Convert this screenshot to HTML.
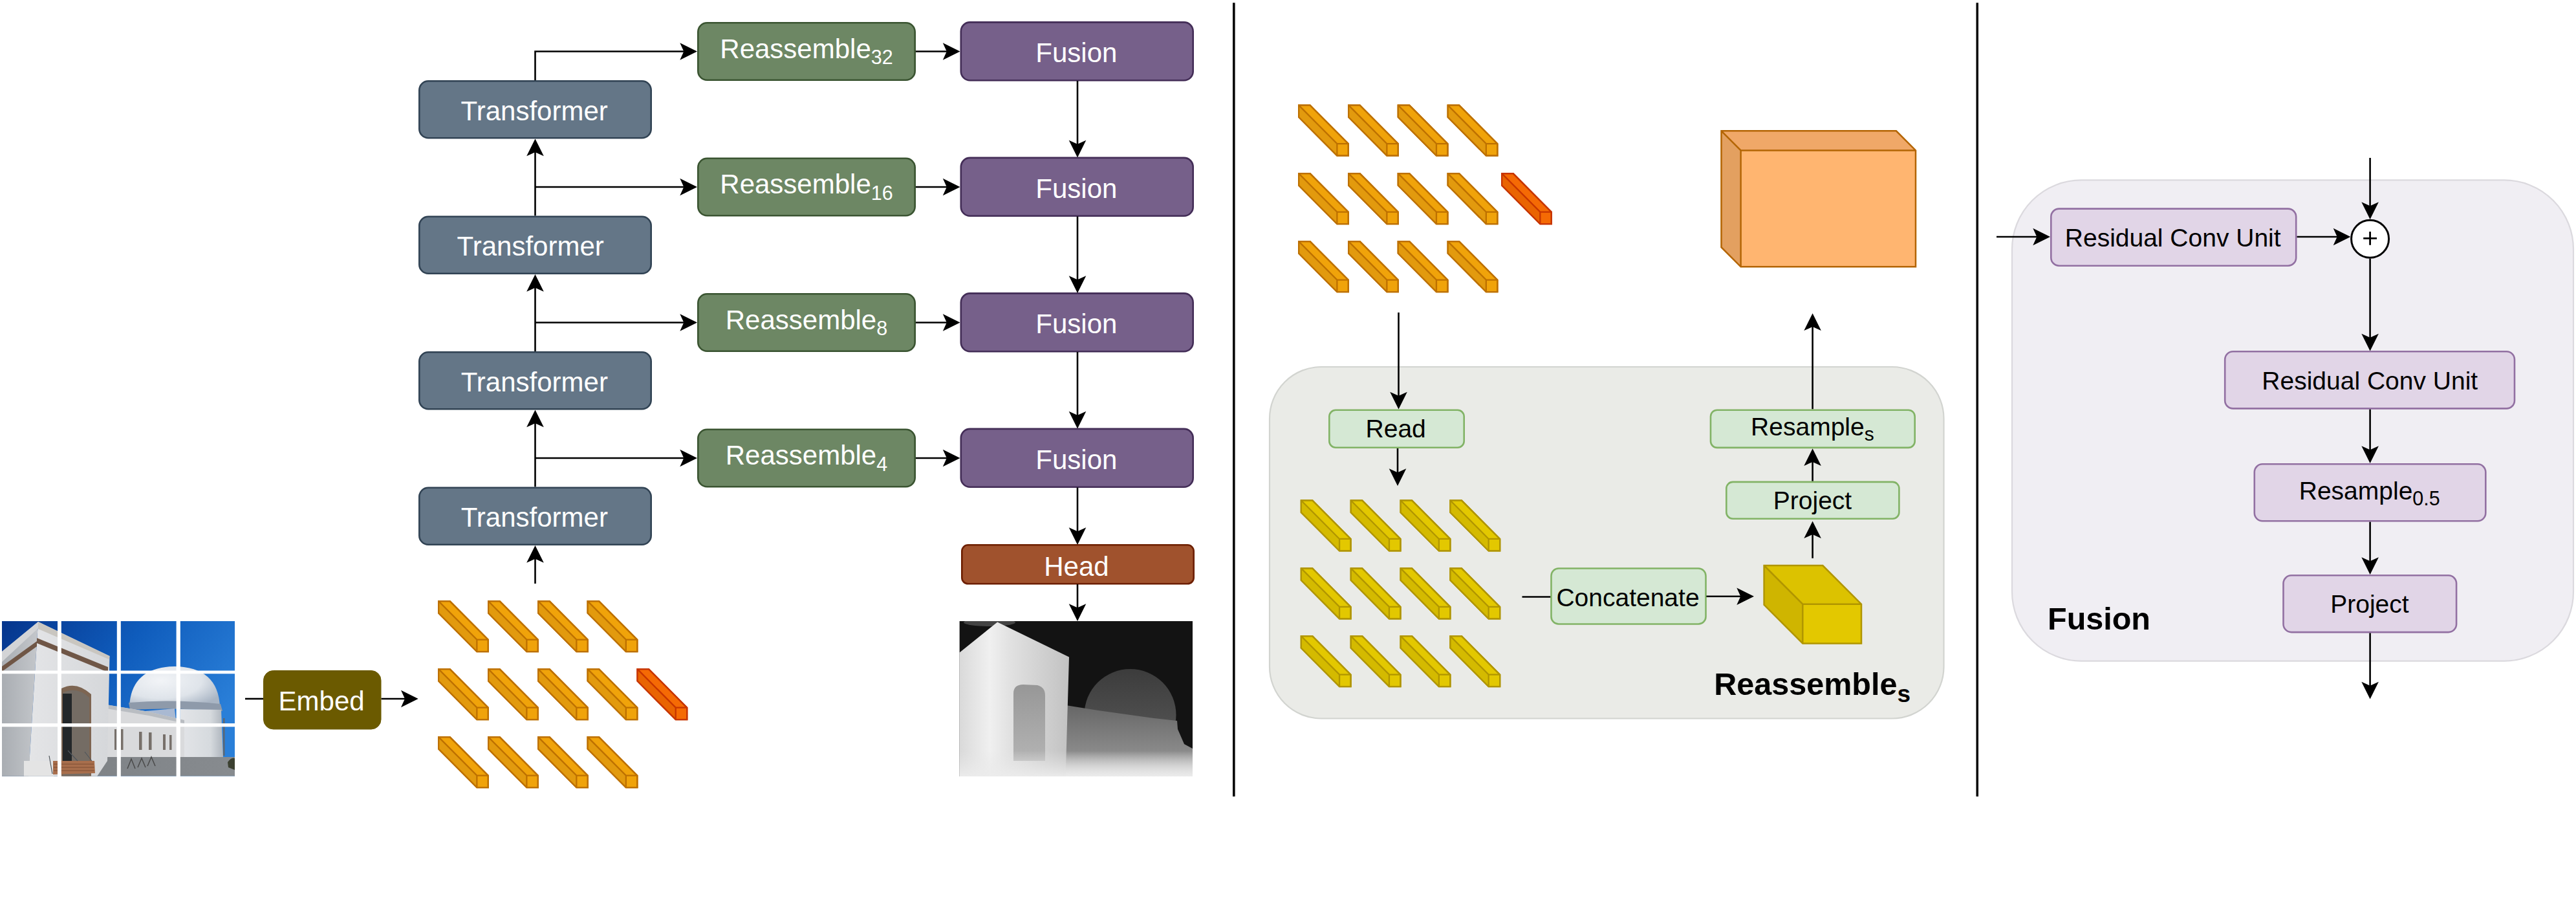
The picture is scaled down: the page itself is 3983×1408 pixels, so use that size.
<!DOCTYPE html>
<html><head><meta charset="utf-8"><style>
html,body{margin:0;padding:0;background:#fff;}
svg{display:block;}
text{font-family:"Liberation Sans", sans-serif;}
</style></head><body>
<svg width="3983" height="1408" viewBox="0 0 3983 1408">
<rect width="3983" height="1408" fill="#fff"/>
<path d="M827.50 124.00 L827.50 79.50 L1058.00 79.50" fill="none" stroke="#000" stroke-width="2.6" stroke-linecap="butt" stroke-linejoin="miter"/>
<path d="M1078.00 79.50 L1051.30 92.80 L1057.30 79.50 L1051.30 66.20 Z" fill="#000"/>
<path d="M1416.00 79.50 L1464.50 79.50" fill="none" stroke="#000" stroke-width="2.6" stroke-linecap="butt" stroke-linejoin="miter"/>
<path d="M1484.50 79.50 L1457.80 92.80 L1463.80 79.50 L1457.80 66.20 Z" fill="#000"/>
<path d="M827.50 333.50 L827.50 234.50" fill="none" stroke="#000" stroke-width="2.6" stroke-linecap="butt" stroke-linejoin="miter"/>
<path d="M827.50 214.50 L840.80 241.20 L827.50 235.20 L814.20 241.20 Z" fill="#000"/>
<path d="M827.50 289.00 L1058.00 289.00" fill="none" stroke="#000" stroke-width="2.6" stroke-linecap="butt" stroke-linejoin="miter"/>
<path d="M1078.00 289.00 L1051.30 302.30 L1057.30 289.00 L1051.30 275.70 Z" fill="#000"/>
<path d="M1416.00 289.00 L1464.50 289.00" fill="none" stroke="#000" stroke-width="2.6" stroke-linecap="butt" stroke-linejoin="miter"/>
<path d="M1484.50 289.00 L1457.80 302.30 L1463.80 289.00 L1457.80 275.70 Z" fill="#000"/>
<path d="M827.50 543.00 L827.50 444.00" fill="none" stroke="#000" stroke-width="2.6" stroke-linecap="butt" stroke-linejoin="miter"/>
<path d="M827.50 424.00 L840.80 450.70 L827.50 444.70 L814.20 450.70 Z" fill="#000"/>
<path d="M827.50 498.50 L1058.00 498.50" fill="none" stroke="#000" stroke-width="2.6" stroke-linecap="butt" stroke-linejoin="miter"/>
<path d="M1078.00 498.50 L1051.30 511.80 L1057.30 498.50 L1051.30 485.20 Z" fill="#000"/>
<path d="M1416.00 498.50 L1464.50 498.50" fill="none" stroke="#000" stroke-width="2.6" stroke-linecap="butt" stroke-linejoin="miter"/>
<path d="M1484.50 498.50 L1457.80 511.80 L1463.80 498.50 L1457.80 485.20 Z" fill="#000"/>
<path d="M827.50 752.50 L827.50 653.50" fill="none" stroke="#000" stroke-width="2.6" stroke-linecap="butt" stroke-linejoin="miter"/>
<path d="M827.50 633.50 L840.80 660.20 L827.50 654.20 L814.20 660.20 Z" fill="#000"/>
<path d="M827.50 708.00 L1058.00 708.00" fill="none" stroke="#000" stroke-width="2.6" stroke-linecap="butt" stroke-linejoin="miter"/>
<path d="M1078.00 708.00 L1051.30 721.30 L1057.30 708.00 L1051.30 694.70 Z" fill="#000"/>
<path d="M1416.00 708.00 L1464.50 708.00" fill="none" stroke="#000" stroke-width="2.6" stroke-linecap="butt" stroke-linejoin="miter"/>
<path d="M1484.50 708.00 L1457.80 721.30 L1463.80 708.00 L1457.80 694.70 Z" fill="#000"/>
<path d="M827.50 902.00 L827.50 863.00" fill="none" stroke="#000" stroke-width="2.6" stroke-linecap="butt" stroke-linejoin="miter"/>
<path d="M827.50 843.00 L840.80 869.70 L827.50 863.70 L814.20 869.70 Z" fill="#000"/>
<rect x="648.30" y="125.30" width="358.40" height="87.90" rx="14" ry="14" fill="#647687" stroke="#314354" stroke-width="2.6"/>
<rect x="648.30" y="334.80" width="358.40" height="87.90" rx="14" ry="14" fill="#647687" stroke="#314354" stroke-width="2.6"/>
<rect x="648.30" y="544.30" width="358.40" height="87.90" rx="14" ry="14" fill="#647687" stroke="#314354" stroke-width="2.6"/>
<rect x="648.30" y="753.80" width="358.40" height="87.90" rx="14" ry="14" fill="#647687" stroke="#314354" stroke-width="2.6"/>
<rect x="1079.30" y="35.30" width="335.40" height="88.40" rx="14" ry="14" fill="#6d8764" stroke="#3A5431" stroke-width="2.6"/>
<rect x="1485.80" y="34.40" width="358.90" height="89.90" rx="14" ry="14" fill="#76608a" stroke="#432D57" stroke-width="2.6"/>
<rect x="1079.30" y="244.80" width="335.40" height="88.40" rx="14" ry="14" fill="#6d8764" stroke="#3A5431" stroke-width="2.6"/>
<rect x="1485.80" y="243.90" width="358.90" height="89.90" rx="14" ry="14" fill="#76608a" stroke="#432D57" stroke-width="2.6"/>
<rect x="1079.30" y="454.30" width="335.40" height="88.40" rx="14" ry="14" fill="#6d8764" stroke="#3A5431" stroke-width="2.6"/>
<rect x="1485.80" y="453.40" width="358.90" height="89.90" rx="14" ry="14" fill="#76608a" stroke="#432D57" stroke-width="2.6"/>
<rect x="1079.30" y="663.80" width="335.40" height="88.40" rx="14" ry="14" fill="#6d8764" stroke="#3A5431" stroke-width="2.6"/>
<rect x="1485.80" y="662.90" width="358.90" height="89.90" rx="14" ry="14" fill="#76608a" stroke="#432D57" stroke-width="2.6"/>
<path d="M1666.00 125.00 L1666.00 223.50" fill="none" stroke="#000" stroke-width="2.6" stroke-linecap="butt" stroke-linejoin="miter"/>
<path d="M1666.00 243.50 L1652.70 216.80 L1666.00 222.80 L1679.30 216.80 Z" fill="#000"/>
<path d="M1666.00 334.50 L1666.00 433.00" fill="none" stroke="#000" stroke-width="2.6" stroke-linecap="butt" stroke-linejoin="miter"/>
<path d="M1666.00 453.00 L1652.70 426.30 L1666.00 432.30 L1679.30 426.30 Z" fill="#000"/>
<path d="M1666.00 544.00 L1666.00 642.50" fill="none" stroke="#000" stroke-width="2.6" stroke-linecap="butt" stroke-linejoin="miter"/>
<path d="M1666.00 662.50 L1652.70 635.80 L1666.00 641.80 L1679.30 635.80 Z" fill="#000"/>
<path d="M1666.00 753.50 L1666.00 822.00" fill="none" stroke="#000" stroke-width="2.6" stroke-linecap="butt" stroke-linejoin="miter"/>
<path d="M1666.00 842.00 L1652.70 815.30 L1666.00 821.30 L1679.30 815.30 Z" fill="#000"/>
<rect x="1487.30" y="842.30" width="358.40" height="60.00" rx="9.5" ry="9.5" fill="#a0522d" stroke="#6D1F00" stroke-width="2.6"/>
<path d="M1666.00 903.00 L1666.00 940.00" fill="none" stroke="#000" stroke-width="2.6" stroke-linecap="butt" stroke-linejoin="miter"/>
<path d="M1666.00 960.00 L1652.70 933.30 L1666.00 939.30 L1679.30 933.30 Z" fill="#000"/>
<text x="826.20" y="186.20" font-size="42" fill="#ffffff" text-anchor="middle" font-weight="normal">Transformer</text>
<text x="820.20" y="395.30" font-size="42" fill="#ffffff" text-anchor="middle" font-weight="normal">Transformer</text>
<text x="826.30" y="605.30" font-size="42" fill="#ffffff" text-anchor="middle" font-weight="normal">Transformer</text>
<text x="826.30" y="814.20" font-size="42" fill="#ffffff" text-anchor="middle" font-weight="normal">Transformer</text>
<text x="1247.00" y="89.80" font-size="42" fill="#ffffff" text-anchor="middle" font-weight="normal">Reassemble<tspan font-size="30.5" dy="9.4">32</tspan></text>
<text x="1664.40" y="96.10" font-size="42" fill="#ffffff" text-anchor="middle" font-weight="normal">Fusion</text>
<text x="1247.00" y="299.30" font-size="42" fill="#ffffff" text-anchor="middle" font-weight="normal">Reassemble<tspan font-size="30.5" dy="9.4">16</tspan></text>
<text x="1664.40" y="305.60" font-size="42" fill="#ffffff" text-anchor="middle" font-weight="normal">Fusion</text>
<text x="1247.00" y="508.80" font-size="42" fill="#ffffff" text-anchor="middle" font-weight="normal">Reassemble<tspan font-size="30.5" dy="9.4">8</tspan></text>
<text x="1664.40" y="515.10" font-size="42" fill="#ffffff" text-anchor="middle" font-weight="normal">Fusion</text>
<text x="1247.00" y="718.30" font-size="42" fill="#ffffff" text-anchor="middle" font-weight="normal">Reassemble<tspan font-size="30.5" dy="9.4">4</tspan></text>
<text x="1664.40" y="724.60" font-size="42" fill="#ffffff" text-anchor="middle" font-weight="normal">Fusion</text>
<text x="1664.40" y="889.50" font-size="42" fill="#ffffff" text-anchor="middle" font-weight="normal">Head</text>
<path d="M379.00 1080.00 L407.00 1080.00" fill="none" stroke="#000" stroke-width="2.6" stroke-linecap="butt" stroke-linejoin="miter"/>
<rect x="407.50" y="1036.50" width="181.50" height="90.50" rx="15" ry="15" fill="#6b5a00" stroke="#6b5a00" stroke-width="1"/>
<text x="497.10" y="1098.10" font-size="42" fill="#ffffff" text-anchor="middle" font-weight="normal">Embed</text>
<path d="M589.50 1080.00 L626.70 1080.00" fill="none" stroke="#000" stroke-width="2.6" stroke-linecap="butt" stroke-linejoin="miter"/>
<path d="M646.70 1080.00 L620.00 1093.30 L626.00 1080.00 L620.00 1066.70 Z" fill="#000"/>
<path d="M678.15 929.15 L695.65 929.15 L754.85 988.65 L754.85 1007.15 L737.35 1007.15 L678.15 947.65 Z" fill="#f0a30a" stroke="#BD7000" stroke-width="2.3" stroke-linejoin="miter"/>
<path d="M678.15 929.15 L737.35 988.65 L737.35 1007.15 L678.15 947.65 Z" fill="#e29a0e" stroke="none"/>
<path d="M678.15 929.15 L695.65 929.15 L754.85 988.65 L754.85 1007.15 L737.35 1007.15 L678.15 947.65 Z" fill="none" stroke="#BD7000" stroke-width="2.3" stroke-linejoin="miter"/>
<path d="M678.15 929.15 L737.35 988.65 L754.85 988.65 M737.35 988.65 L737.35 1007.15" fill="none" stroke="#BD7000" stroke-width="2.3"/>
<path d="M755.15 929.15 L772.65 929.15 L831.85 988.65 L831.85 1007.15 L814.35 1007.15 L755.15 947.65 Z" fill="#f0a30a" stroke="#BD7000" stroke-width="2.3" stroke-linejoin="miter"/>
<path d="M755.15 929.15 L814.35 988.65 L814.35 1007.15 L755.15 947.65 Z" fill="#e29a0e" stroke="none"/>
<path d="M755.15 929.15 L772.65 929.15 L831.85 988.65 L831.85 1007.15 L814.35 1007.15 L755.15 947.65 Z" fill="none" stroke="#BD7000" stroke-width="2.3" stroke-linejoin="miter"/>
<path d="M755.15 929.15 L814.35 988.65 L831.85 988.65 M814.35 988.65 L814.35 1007.15" fill="none" stroke="#BD7000" stroke-width="2.3"/>
<path d="M832.15 929.15 L849.65 929.15 L908.85 988.65 L908.85 1007.15 L891.35 1007.15 L832.15 947.65 Z" fill="#f0a30a" stroke="#BD7000" stroke-width="2.3" stroke-linejoin="miter"/>
<path d="M832.15 929.15 L891.35 988.65 L891.35 1007.15 L832.15 947.65 Z" fill="#e29a0e" stroke="none"/>
<path d="M832.15 929.15 L849.65 929.15 L908.85 988.65 L908.85 1007.15 L891.35 1007.15 L832.15 947.65 Z" fill="none" stroke="#BD7000" stroke-width="2.3" stroke-linejoin="miter"/>
<path d="M832.15 929.15 L891.35 988.65 L908.85 988.65 M891.35 988.65 L891.35 1007.15" fill="none" stroke="#BD7000" stroke-width="2.3"/>
<path d="M908.65 929.15 L926.15 929.15 L985.35 988.65 L985.35 1007.15 L967.85 1007.15 L908.65 947.65 Z" fill="#f0a30a" stroke="#BD7000" stroke-width="2.3" stroke-linejoin="miter"/>
<path d="M908.65 929.15 L967.85 988.65 L967.85 1007.15 L908.65 947.65 Z" fill="#e29a0e" stroke="none"/>
<path d="M908.65 929.15 L926.15 929.15 L985.35 988.65 L985.35 1007.15 L967.85 1007.15 L908.65 947.65 Z" fill="none" stroke="#BD7000" stroke-width="2.3" stroke-linejoin="miter"/>
<path d="M908.65 929.15 L967.85 988.65 L985.35 988.65 M967.85 988.65 L967.85 1007.15" fill="none" stroke="#BD7000" stroke-width="2.3"/>
<path d="M678.15 1034.15 L695.65 1034.15 L754.85 1093.65 L754.85 1112.15 L737.35 1112.15 L678.15 1052.65 Z" fill="#f0a30a" stroke="#BD7000" stroke-width="2.3" stroke-linejoin="miter"/>
<path d="M678.15 1034.15 L737.35 1093.65 L737.35 1112.15 L678.15 1052.65 Z" fill="#e29a0e" stroke="none"/>
<path d="M678.15 1034.15 L695.65 1034.15 L754.85 1093.65 L754.85 1112.15 L737.35 1112.15 L678.15 1052.65 Z" fill="none" stroke="#BD7000" stroke-width="2.3" stroke-linejoin="miter"/>
<path d="M678.15 1034.15 L737.35 1093.65 L754.85 1093.65 M737.35 1093.65 L737.35 1112.15" fill="none" stroke="#BD7000" stroke-width="2.3"/>
<path d="M755.15 1034.15 L772.65 1034.15 L831.85 1093.65 L831.85 1112.15 L814.35 1112.15 L755.15 1052.65 Z" fill="#f0a30a" stroke="#BD7000" stroke-width="2.3" stroke-linejoin="miter"/>
<path d="M755.15 1034.15 L814.35 1093.65 L814.35 1112.15 L755.15 1052.65 Z" fill="#e29a0e" stroke="none"/>
<path d="M755.15 1034.15 L772.65 1034.15 L831.85 1093.65 L831.85 1112.15 L814.35 1112.15 L755.15 1052.65 Z" fill="none" stroke="#BD7000" stroke-width="2.3" stroke-linejoin="miter"/>
<path d="M755.15 1034.15 L814.35 1093.65 L831.85 1093.65 M814.35 1093.65 L814.35 1112.15" fill="none" stroke="#BD7000" stroke-width="2.3"/>
<path d="M832.15 1034.15 L849.65 1034.15 L908.85 1093.65 L908.85 1112.15 L891.35 1112.15 L832.15 1052.65 Z" fill="#f0a30a" stroke="#BD7000" stroke-width="2.3" stroke-linejoin="miter"/>
<path d="M832.15 1034.15 L891.35 1093.65 L891.35 1112.15 L832.15 1052.65 Z" fill="#e29a0e" stroke="none"/>
<path d="M832.15 1034.15 L849.65 1034.15 L908.85 1093.65 L908.85 1112.15 L891.35 1112.15 L832.15 1052.65 Z" fill="none" stroke="#BD7000" stroke-width="2.3" stroke-linejoin="miter"/>
<path d="M832.15 1034.15 L891.35 1093.65 L908.85 1093.65 M891.35 1093.65 L891.35 1112.15" fill="none" stroke="#BD7000" stroke-width="2.3"/>
<path d="M908.65 1034.15 L926.15 1034.15 L985.35 1093.65 L985.35 1112.15 L967.85 1112.15 L908.65 1052.65 Z" fill="#f0a30a" stroke="#BD7000" stroke-width="2.3" stroke-linejoin="miter"/>
<path d="M908.65 1034.15 L967.85 1093.65 L967.85 1112.15 L908.65 1052.65 Z" fill="#e29a0e" stroke="none"/>
<path d="M908.65 1034.15 L926.15 1034.15 L985.35 1093.65 L985.35 1112.15 L967.85 1112.15 L908.65 1052.65 Z" fill="none" stroke="#BD7000" stroke-width="2.3" stroke-linejoin="miter"/>
<path d="M908.65 1034.15 L967.85 1093.65 L985.35 1093.65 M967.85 1093.65 L967.85 1112.15" fill="none" stroke="#BD7000" stroke-width="2.3"/>
<path d="M678.15 1139.15 L695.65 1139.15 L754.85 1198.65 L754.85 1217.15 L737.35 1217.15 L678.15 1157.65 Z" fill="#f0a30a" stroke="#BD7000" stroke-width="2.3" stroke-linejoin="miter"/>
<path d="M678.15 1139.15 L737.35 1198.65 L737.35 1217.15 L678.15 1157.65 Z" fill="#e29a0e" stroke="none"/>
<path d="M678.15 1139.15 L695.65 1139.15 L754.85 1198.65 L754.85 1217.15 L737.35 1217.15 L678.15 1157.65 Z" fill="none" stroke="#BD7000" stroke-width="2.3" stroke-linejoin="miter"/>
<path d="M678.15 1139.15 L737.35 1198.65 L754.85 1198.65 M737.35 1198.65 L737.35 1217.15" fill="none" stroke="#BD7000" stroke-width="2.3"/>
<path d="M755.15 1139.15 L772.65 1139.15 L831.85 1198.65 L831.85 1217.15 L814.35 1217.15 L755.15 1157.65 Z" fill="#f0a30a" stroke="#BD7000" stroke-width="2.3" stroke-linejoin="miter"/>
<path d="M755.15 1139.15 L814.35 1198.65 L814.35 1217.15 L755.15 1157.65 Z" fill="#e29a0e" stroke="none"/>
<path d="M755.15 1139.15 L772.65 1139.15 L831.85 1198.65 L831.85 1217.15 L814.35 1217.15 L755.15 1157.65 Z" fill="none" stroke="#BD7000" stroke-width="2.3" stroke-linejoin="miter"/>
<path d="M755.15 1139.15 L814.35 1198.65 L831.85 1198.65 M814.35 1198.65 L814.35 1217.15" fill="none" stroke="#BD7000" stroke-width="2.3"/>
<path d="M832.15 1139.15 L849.65 1139.15 L908.85 1198.65 L908.85 1217.15 L891.35 1217.15 L832.15 1157.65 Z" fill="#f0a30a" stroke="#BD7000" stroke-width="2.3" stroke-linejoin="miter"/>
<path d="M832.15 1139.15 L891.35 1198.65 L891.35 1217.15 L832.15 1157.65 Z" fill="#e29a0e" stroke="none"/>
<path d="M832.15 1139.15 L849.65 1139.15 L908.85 1198.65 L908.85 1217.15 L891.35 1217.15 L832.15 1157.65 Z" fill="none" stroke="#BD7000" stroke-width="2.3" stroke-linejoin="miter"/>
<path d="M832.15 1139.15 L891.35 1198.65 L908.85 1198.65 M891.35 1198.65 L891.35 1217.15" fill="none" stroke="#BD7000" stroke-width="2.3"/>
<path d="M908.65 1139.15 L926.15 1139.15 L985.35 1198.65 L985.35 1217.15 L967.85 1217.15 L908.65 1157.65 Z" fill="#f0a30a" stroke="#BD7000" stroke-width="2.3" stroke-linejoin="miter"/>
<path d="M908.65 1139.15 L967.85 1198.65 L967.85 1217.15 L908.65 1157.65 Z" fill="#e29a0e" stroke="none"/>
<path d="M908.65 1139.15 L926.15 1139.15 L985.35 1198.65 L985.35 1217.15 L967.85 1217.15 L908.65 1157.65 Z" fill="none" stroke="#BD7000" stroke-width="2.3" stroke-linejoin="miter"/>
<path d="M908.65 1139.15 L967.85 1198.65 L985.35 1198.65 M967.85 1198.65 L967.85 1217.15" fill="none" stroke="#BD7000" stroke-width="2.3"/>
<path d="M985.55 1034.15 L1003.05 1034.15 L1062.25 1093.65 L1062.25 1112.15 L1044.75 1112.15 L985.55 1052.65 Z" fill="#f56a04" stroke="#C73500" stroke-width="2.3" stroke-linejoin="miter"/>
<path d="M985.55 1034.15 L1044.75 1093.65 L1044.75 1112.15 L985.55 1052.65 Z" fill="#e96402" stroke="none"/>
<path d="M985.55 1034.15 L1003.05 1034.15 L1062.25 1093.65 L1062.25 1112.15 L1044.75 1112.15 L985.55 1052.65 Z" fill="none" stroke="#C73500" stroke-width="2.3" stroke-linejoin="miter"/>
<path d="M985.55 1034.15 L1044.75 1093.65 L1062.25 1093.65 M1044.75 1093.65 L1044.75 1112.15" fill="none" stroke="#C73500" stroke-width="2.3"/>
<defs>
<linearGradient id="sky" x1="0" y1="0" x2="1" y2="0.5"><stop offset="0" stop-color="#06358c"/><stop offset="0.5" stop-color="#0f5cbc"/><stop offset="1" stop-color="#2a7fd8"/></linearGradient>
<linearGradient id="frontwall" x1="0" y1="0" x2="1" y2="0"><stop offset="0" stop-color="#e4e5e7"/><stop offset="1" stop-color="#d5d7da"/></linearGradient>
<linearGradient id="leftwall" x1="0" y1="0" x2="1" y2="0"><stop offset="0" stop-color="#a9adb2"/><stop offset="1" stop-color="#c4c7cb"/></linearGradient>
<radialGradient id="dome" cx="0.35" cy="0.35" r="0.75"><stop offset="0" stop-color="#f2f4f7"/><stop offset="0.6" stop-color="#dfe4ea"/><stop offset="1" stop-color="#a9b5c4"/></radialGradient>
<linearGradient id="drum" x1="0" y1="0" x2="1" y2="0"><stop offset="0" stop-color="#e3e5e8"/><stop offset="0.7" stop-color="#d6dade"/><stop offset="1" stop-color="#aeb5bd"/></linearGradient>
<linearGradient id="ground" x1="0" y1="0" x2="1" y2="0"><stop offset="0" stop-color="#7a7e82"/><stop offset="1" stop-color="#878b8f"/></linearGradient>
<linearGradient id="dwhite" x1="0" y1="0" x2="1" y2="0"><stop offset="0" stop-color="#d2d2d2"/><stop offset="0.3" stop-color="#efefef"/><stop offset="0.6" stop-color="#dadada"/><stop offset="1" stop-color="#c6c6c6"/></linearGradient>
<linearGradient id="dlow" x1="0" y1="0" x2="0" y2="1"><stop offset="0" stop-color="#686868"/><stop offset="0.6" stop-color="#7e7e7e"/><stop offset="1" stop-color="#b0b0b0"/></linearGradient>
<linearGradient id="ddome" x1="0" y1="0" x2="0" y2="1"><stop offset="0" stop-color="#404040"/><stop offset="0.5" stop-color="#4c4c4c"/><stop offset="1" stop-color="#666666"/></linearGradient>
<linearGradient id="dground" x1="0" y1="0" x2="0" y2="1"><stop offset="0" stop-color="#9c9c9c" stop-opacity="0"/><stop offset="1" stop-color="#dedede"/></linearGradient>
<clipPath id="photoclip2"><rect x="3" y="960" width="360" height="239.5"/></clipPath>
<clipPath id="depthclip"><rect x="87" y="208" width="938" height="624"/></clipPath>
</defs>
<g clip-path="url(#photoclip2)">
<rect x="3" y="960" width="360" height="240" fill="url(#sky)"/>
<path d="M200 1092 Q203 1031 270 1030 Q337 1031 340 1092 Z" fill="url(#dome)"/>
<path d="M199 1086 Q270 1080 341 1088 L344 1099 Q270 1093 201 1097 Z" fill="#8e9aaa"/>
<path d="M279 1096 L342 1097 L345 1170 L279 1172 Z" fill="url(#drum)"/>
<path d="M225 1099 L270 1095 L272 1114 L232 1108 Z" fill="#a9b9d2"/>
<path d="M164 1089 L230 1100 L285 1113 L285 1172 L164 1176 Z" fill="#d9dadc"/>
<path d="M164 1089 L230 1100 L285 1113 L285 1118 L230 1106 L164 1095 Z" fill="#b9bdc2"/>
<rect x="177" y="1127" width="3" height="32" fill="#77706a"/><rect x="187" y="1127" width="3.5" height="32" fill="#77706a"/><rect x="215" y="1131" width="4.5" height="28" fill="#77706a"/><rect x="230" y="1132" width="4.5" height="27" fill="#77706a"/><rect x="252" y="1135" width="4" height="24" fill="#77706a"/><rect x="262" y="1136" width="3.5" height="23" fill="#77706a"/>
<rect x="345" y="1110" width="2.5" height="58" fill="#5d6670"/>
<rect x="3" y="1170" width="360" height="30" fill="url(#ground)"/>
<path d="M352 1178 Q358 1170 363 1172 L363 1190 L353 1186 Z" fill="#3b4030"/>
<path d="M197 1188 L203 1173 L209 1188 M213 1186 L219 1172 L225 1186 M228 1184 L234 1170 L240 1184" stroke="#4a4a4a" stroke-width="1.5" fill="none"/>
<path d="M3 1007 L59 961 L57 992 L44 1200 L3 1200 Z" fill="url(#leftwall)"/>
<path d="M59 961 L169.5 1014 L166 1176 L150 1200 L44 1200 L57 992 Z" fill="url(#frontwall)"/>
<path d="M3 1007 L59 961 L59 971 L3 1023 Z" fill="#d3d4d6"/>
<path d="M59 961 L169.5 1014 L168.5 1019 L59 972 Z" fill="#c9c6c0"/>
<path d="M3 1030 L57 991 L57 999 L3 1038 Z" fill="#6f5646"/>
<path d="M57 986 L167 1031 L167 1039 L57 994 Z" fill="#6f5646"/>
<path d="M95 1200 L95 1064 Q118 1052 141 1073 L141 1200 Z" fill="#7d6552"/>
<path d="M97 1200 L97 1071 Q118 1060 138 1078 L138 1200 Z" fill="#746c64"/>
<rect x="97" y="1072" width="14" height="110" fill="#23272a"/>
<rect x="37" y="1176" width="46" height="24" fill="#e4e4e4"/>
<path d="M82 1176 L146 1176 L147 1195 L82 1197 Z" fill="#a86e4c"/>
<path d="M83 1181 L145 1181 M83 1186 L146 1186 M83 1191 L146 1191" stroke="#7c4c32" stroke-width="1.2"/>
<path d="M76 1168 L81 1196 M105 1160 L120 1176 M131 1162 L142 1176" stroke="#50565c" stroke-width="1.2" fill="none"/>
</g>
<rect x="89" y="960" width="5.8" height="240" fill="#fff"/>
<rect x="180.8" y="960" width="6" height="240" fill="#fff"/>
<rect x="272.6" y="960" width="6.2" height="240" fill="#fff"/>
<rect x="3" y="1036.5" width="360" height="4.8" fill="#fff"/>
<rect x="3" y="1118" width="360" height="5.3" fill="#fff"/>

<defs>
<linearGradient id="dw2" x1="1483" y1="0" x2="1653" y2="0" gradientUnits="userSpaceOnUse"><stop offset="0" stop-color="#d9d9d9"/><stop offset="0.28" stop-color="#f0f0f0"/><stop offset="0.45" stop-color="#e2e2e2"/><stop offset="1" stop-color="#c2c2c2"/></linearGradient>
<linearGradient id="dl2" x1="0" y1="1090" x2="0" y2="1200" gradientUnits="userSpaceOnUse"><stop offset="0" stop-color="#666666"/><stop offset="0.65" stop-color="#8a8a8a"/><stop offset="1" stop-color="#d6d6d6"/></linearGradient>
<linearGradient id="dd2" x1="0" y1="1034" x2="0" y2="1176" gradientUnits="userSpaceOnUse"><stop offset="0" stop-color="#3c3c3c"/><stop offset="1" stop-color="#5c5c5c"/></linearGradient>
<linearGradient id="dg2" x1="0" y1="1160" x2="0" y2="1200" gradientUnits="userSpaceOnUse"><stop offset="0" stop-color="#e6e6e6" stop-opacity="0"/><stop offset="1" stop-color="#ececec" stop-opacity="0.95"/></linearGradient>
<linearGradient id="door2" x1="0" y1="1058" x2="0" y2="1178" gradientUnits="userSpaceOnUse"><stop offset="0" stop-color="#979797"/><stop offset="1" stop-color="#b4b4b4"/></linearGradient>
<clipPath id="depthclip2"><rect x="1483.4" y="960" width="360.6" height="240"/></clipPath>
</defs>
<g clip-path="url(#depthclip2)">
<rect x="1483.4" y="960" width="360.6" height="240" fill="#131313"/>
<ellipse cx="1530" cy="962" rx="40" ry="6" fill="#5a5a5a" opacity="0.7"/>
<circle cx="1747.5" cy="1105" r="71" fill="url(#dd2)"/>
<path d="M1648 1090 L1698 1098 L1784 1110 L1820 1114 L1821 1127 L1831 1150 L1844 1157 L1844 1200 L1648 1200 Z" fill="url(#dl2)"/>
<path d="M1483.4 1008.7 L1542.2 961.5 L1653 1015.5 L1648 1187 L1648 1200 L1483.4 1200 Z" fill="url(#dw2)"/>
<path d="M1567 1176 L1567 1072 Q1567 1058 1582 1058 L1604 1059 Q1616 1062 1616 1075 L1616 1176 Z" fill="url(#door2)"/>
<rect x="1483.4" y="1160" width="360.6" height="40" fill="url(#dg2)"/>
</g>
<rect x="1906" y="4.3" width="3.6" height="1226.7" fill="#000"/>
<rect x="3055.5" y="4.3" width="3.5" height="1226.7" fill="#000"/>
<rect x="1963" y="567" width="1042.5" height="543.5" rx="80" ry="80" fill="#eaebe7" stroke="#d2d4d0" stroke-width="2.2"/>
<path d="M2008.15 162.65 L2025.65 162.65 L2084.85 222.15 L2084.85 240.65 L2067.35 240.65 L2008.15 181.15 Z" fill="#f0a30a" stroke="#BD7000" stroke-width="2.3" stroke-linejoin="miter"/>
<path d="M2008.15 162.65 L2067.35 222.15 L2067.35 240.65 L2008.15 181.15 Z" fill="#e29a0e" stroke="none"/>
<path d="M2008.15 162.65 L2025.65 162.65 L2084.85 222.15 L2084.85 240.65 L2067.35 240.65 L2008.15 181.15 Z" fill="none" stroke="#BD7000" stroke-width="2.3" stroke-linejoin="miter"/>
<path d="M2008.15 162.65 L2067.35 222.15 L2084.85 222.15 M2067.35 222.15 L2067.35 240.65" fill="none" stroke="#BD7000" stroke-width="2.3"/>
<path d="M2085.15 162.65 L2102.65 162.65 L2161.85 222.15 L2161.85 240.65 L2144.35 240.65 L2085.15 181.15 Z" fill="#f0a30a" stroke="#BD7000" stroke-width="2.3" stroke-linejoin="miter"/>
<path d="M2085.15 162.65 L2144.35 222.15 L2144.35 240.65 L2085.15 181.15 Z" fill="#e29a0e" stroke="none"/>
<path d="M2085.15 162.65 L2102.65 162.65 L2161.85 222.15 L2161.85 240.65 L2144.35 240.65 L2085.15 181.15 Z" fill="none" stroke="#BD7000" stroke-width="2.3" stroke-linejoin="miter"/>
<path d="M2085.15 162.65 L2144.35 222.15 L2161.85 222.15 M2144.35 222.15 L2144.35 240.65" fill="none" stroke="#BD7000" stroke-width="2.3"/>
<path d="M2161.75 162.65 L2179.25 162.65 L2238.45 222.15 L2238.45 240.65 L2220.95 240.65 L2161.75 181.15 Z" fill="#f0a30a" stroke="#BD7000" stroke-width="2.3" stroke-linejoin="miter"/>
<path d="M2161.75 162.65 L2220.95 222.15 L2220.95 240.65 L2161.75 181.15 Z" fill="#e29a0e" stroke="none"/>
<path d="M2161.75 162.65 L2179.25 162.65 L2238.45 222.15 L2238.45 240.65 L2220.95 240.65 L2161.75 181.15 Z" fill="none" stroke="#BD7000" stroke-width="2.3" stroke-linejoin="miter"/>
<path d="M2161.75 162.65 L2220.95 222.15 L2238.45 222.15 M2220.95 222.15 L2220.95 240.65" fill="none" stroke="#BD7000" stroke-width="2.3"/>
<path d="M2238.65 162.65 L2256.15 162.65 L2315.35 222.15 L2315.35 240.65 L2297.85 240.65 L2238.65 181.15 Z" fill="#f0a30a" stroke="#BD7000" stroke-width="2.3" stroke-linejoin="miter"/>
<path d="M2238.65 162.65 L2297.85 222.15 L2297.85 240.65 L2238.65 181.15 Z" fill="#e29a0e" stroke="none"/>
<path d="M2238.65 162.65 L2256.15 162.65 L2315.35 222.15 L2315.35 240.65 L2297.85 240.65 L2238.65 181.15 Z" fill="none" stroke="#BD7000" stroke-width="2.3" stroke-linejoin="miter"/>
<path d="M2238.65 162.65 L2297.85 222.15 L2315.35 222.15 M2297.85 222.15 L2297.85 240.65" fill="none" stroke="#BD7000" stroke-width="2.3"/>
<path d="M2008.15 268.15 L2025.65 268.15 L2084.85 327.65 L2084.85 346.15 L2067.35 346.15 L2008.15 286.65 Z" fill="#f0a30a" stroke="#BD7000" stroke-width="2.3" stroke-linejoin="miter"/>
<path d="M2008.15 268.15 L2067.35 327.65 L2067.35 346.15 L2008.15 286.65 Z" fill="#e29a0e" stroke="none"/>
<path d="M2008.15 268.15 L2025.65 268.15 L2084.85 327.65 L2084.85 346.15 L2067.35 346.15 L2008.15 286.65 Z" fill="none" stroke="#BD7000" stroke-width="2.3" stroke-linejoin="miter"/>
<path d="M2008.15 268.15 L2067.35 327.65 L2084.85 327.65 M2067.35 327.65 L2067.35 346.15" fill="none" stroke="#BD7000" stroke-width="2.3"/>
<path d="M2085.15 268.15 L2102.65 268.15 L2161.85 327.65 L2161.85 346.15 L2144.35 346.15 L2085.15 286.65 Z" fill="#f0a30a" stroke="#BD7000" stroke-width="2.3" stroke-linejoin="miter"/>
<path d="M2085.15 268.15 L2144.35 327.65 L2144.35 346.15 L2085.15 286.65 Z" fill="#e29a0e" stroke="none"/>
<path d="M2085.15 268.15 L2102.65 268.15 L2161.85 327.65 L2161.85 346.15 L2144.35 346.15 L2085.15 286.65 Z" fill="none" stroke="#BD7000" stroke-width="2.3" stroke-linejoin="miter"/>
<path d="M2085.15 268.15 L2144.35 327.65 L2161.85 327.65 M2144.35 327.65 L2144.35 346.15" fill="none" stroke="#BD7000" stroke-width="2.3"/>
<path d="M2161.75 268.15 L2179.25 268.15 L2238.45 327.65 L2238.45 346.15 L2220.95 346.15 L2161.75 286.65 Z" fill="#f0a30a" stroke="#BD7000" stroke-width="2.3" stroke-linejoin="miter"/>
<path d="M2161.75 268.15 L2220.95 327.65 L2220.95 346.15 L2161.75 286.65 Z" fill="#e29a0e" stroke="none"/>
<path d="M2161.75 268.15 L2179.25 268.15 L2238.45 327.65 L2238.45 346.15 L2220.95 346.15 L2161.75 286.65 Z" fill="none" stroke="#BD7000" stroke-width="2.3" stroke-linejoin="miter"/>
<path d="M2161.75 268.15 L2220.95 327.65 L2238.45 327.65 M2220.95 327.65 L2220.95 346.15" fill="none" stroke="#BD7000" stroke-width="2.3"/>
<path d="M2238.65 268.15 L2256.15 268.15 L2315.35 327.65 L2315.35 346.15 L2297.85 346.15 L2238.65 286.65 Z" fill="#f0a30a" stroke="#BD7000" stroke-width="2.3" stroke-linejoin="miter"/>
<path d="M2238.65 268.15 L2297.85 327.65 L2297.85 346.15 L2238.65 286.65 Z" fill="#e29a0e" stroke="none"/>
<path d="M2238.65 268.15 L2256.15 268.15 L2315.35 327.65 L2315.35 346.15 L2297.85 346.15 L2238.65 286.65 Z" fill="none" stroke="#BD7000" stroke-width="2.3" stroke-linejoin="miter"/>
<path d="M2238.65 268.15 L2297.85 327.65 L2315.35 327.65 M2297.85 327.65 L2297.85 346.15" fill="none" stroke="#BD7000" stroke-width="2.3"/>
<path d="M2008.15 373.15 L2025.65 373.15 L2084.85 432.65 L2084.85 451.15 L2067.35 451.15 L2008.15 391.65 Z" fill="#f0a30a" stroke="#BD7000" stroke-width="2.3" stroke-linejoin="miter"/>
<path d="M2008.15 373.15 L2067.35 432.65 L2067.35 451.15 L2008.15 391.65 Z" fill="#e29a0e" stroke="none"/>
<path d="M2008.15 373.15 L2025.65 373.15 L2084.85 432.65 L2084.85 451.15 L2067.35 451.15 L2008.15 391.65 Z" fill="none" stroke="#BD7000" stroke-width="2.3" stroke-linejoin="miter"/>
<path d="M2008.15 373.15 L2067.35 432.65 L2084.85 432.65 M2067.35 432.65 L2067.35 451.15" fill="none" stroke="#BD7000" stroke-width="2.3"/>
<path d="M2085.15 373.15 L2102.65 373.15 L2161.85 432.65 L2161.85 451.15 L2144.35 451.15 L2085.15 391.65 Z" fill="#f0a30a" stroke="#BD7000" stroke-width="2.3" stroke-linejoin="miter"/>
<path d="M2085.15 373.15 L2144.35 432.65 L2144.35 451.15 L2085.15 391.65 Z" fill="#e29a0e" stroke="none"/>
<path d="M2085.15 373.15 L2102.65 373.15 L2161.85 432.65 L2161.85 451.15 L2144.35 451.15 L2085.15 391.65 Z" fill="none" stroke="#BD7000" stroke-width="2.3" stroke-linejoin="miter"/>
<path d="M2085.15 373.15 L2144.35 432.65 L2161.85 432.65 M2144.35 432.65 L2144.35 451.15" fill="none" stroke="#BD7000" stroke-width="2.3"/>
<path d="M2161.75 373.15 L2179.25 373.15 L2238.45 432.65 L2238.45 451.15 L2220.95 451.15 L2161.75 391.65 Z" fill="#f0a30a" stroke="#BD7000" stroke-width="2.3" stroke-linejoin="miter"/>
<path d="M2161.75 373.15 L2220.95 432.65 L2220.95 451.15 L2161.75 391.65 Z" fill="#e29a0e" stroke="none"/>
<path d="M2161.75 373.15 L2179.25 373.15 L2238.45 432.65 L2238.45 451.15 L2220.95 451.15 L2161.75 391.65 Z" fill="none" stroke="#BD7000" stroke-width="2.3" stroke-linejoin="miter"/>
<path d="M2161.75 373.15 L2220.95 432.65 L2238.45 432.65 M2220.95 432.65 L2220.95 451.15" fill="none" stroke="#BD7000" stroke-width="2.3"/>
<path d="M2238.65 373.15 L2256.15 373.15 L2315.35 432.65 L2315.35 451.15 L2297.85 451.15 L2238.65 391.65 Z" fill="#f0a30a" stroke="#BD7000" stroke-width="2.3" stroke-linejoin="miter"/>
<path d="M2238.65 373.15 L2297.85 432.65 L2297.85 451.15 L2238.65 391.65 Z" fill="#e29a0e" stroke="none"/>
<path d="M2238.65 373.15 L2256.15 373.15 L2315.35 432.65 L2315.35 451.15 L2297.85 451.15 L2238.65 391.65 Z" fill="none" stroke="#BD7000" stroke-width="2.3" stroke-linejoin="miter"/>
<path d="M2238.65 373.15 L2297.85 432.65 L2315.35 432.65 M2297.85 432.65 L2297.85 451.15" fill="none" stroke="#BD7000" stroke-width="2.3"/>
<path d="M2322.15 268.15 L2339.65 268.15 L2398.85 327.65 L2398.85 346.15 L2381.35 346.15 L2322.15 286.65 Z" fill="#f56a04" stroke="#C73500" stroke-width="2.3" stroke-linejoin="miter"/>
<path d="M2322.15 268.15 L2381.35 327.65 L2381.35 346.15 L2322.15 286.65 Z" fill="#e96402" stroke="none"/>
<path d="M2322.15 268.15 L2339.65 268.15 L2398.85 327.65 L2398.85 346.15 L2381.35 346.15 L2322.15 286.65 Z" fill="none" stroke="#C73500" stroke-width="2.3" stroke-linejoin="miter"/>
<path d="M2322.15 268.15 L2381.35 327.65 L2398.85 327.65 M2381.35 327.65 L2381.35 346.15" fill="none" stroke="#C73500" stroke-width="2.3"/>
<path d="M2162.50 483.00 L2162.50 612.50" fill="none" stroke="#000" stroke-width="2.6" stroke-linecap="butt" stroke-linejoin="miter"/>
<path d="M2162.50 632.50 L2149.20 605.80 L2162.50 611.80 L2175.80 605.80 Z" fill="#000"/>
<path d="M2661.5 202.3 L2931.9 202.3 L2962 232.4 L2691.6 232.4 Z" fill="#f0a868"/>
<path d="M2661.5 202.3 L2691.6 232.4 L2691.6 412.3 L2661.5 382.20000000000005 Z" fill="#e3a060"/>
<rect x="2691.6" y="232.4" width="270.4000000000001" height="179.9" fill="#ffb570"/>
<path d="M2661.5 202.3 L2931.9 202.3 L2962 232.4 L2962 412.3 L2691.6 412.3 L2661.5 382.20000000000005 Z M2661.5 202.3 L2691.6 232.4 L2962 232.4 M2691.6 232.4 L2691.6 412.3" fill="none" stroke="#b46504" stroke-width="2.5" stroke-linejoin="miter"/>
<path d="M2802.60 632.40 L2802.60 504.30" fill="none" stroke="#000" stroke-width="2.6" stroke-linecap="butt" stroke-linejoin="miter"/>
<path d="M2802.60 484.30 L2815.90 511.00 L2802.60 505.00 L2789.30 511.00 Z" fill="#000"/>
<rect x="2055.30" y="633.80" width="208.40" height="57.90" rx="10" ry="10" fill="#d5e8d4" stroke="#82b366" stroke-width="2.6"/>
<text x="2158.20" y="675.90" font-size="39" fill="#000" text-anchor="middle" font-weight="normal">Read</text>
<path d="M2161.00 693.00 L2161.00 731.00" fill="none" stroke="#000" stroke-width="2.6" stroke-linecap="butt" stroke-linejoin="miter"/>
<path d="M2161.00 751.00 L2147.70 724.30 L2161.00 730.30 L2174.30 724.30 Z" fill="#000"/>
<path d="M2011.8500000000001 773.4499999999999 L2029.3500000000001 773.4499999999999 L2088.55 832.9499999999999 L2088.55 851.4499999999999 L2071.05 851.4499999999999 L2011.8500000000001 791.9499999999999 Z" fill="#e3c800" stroke="#B09500" stroke-width="2.3" stroke-linejoin="miter"/>
<path d="M2011.8500000000001 773.4499999999999 L2071.05 832.9499999999999 L2071.05 851.4499999999999 L2011.8500000000001 791.9499999999999 Z" fill="#d4ba00" stroke="none"/>
<path d="M2011.8500000000001 773.4499999999999 L2029.3500000000001 773.4499999999999 L2088.55 832.9499999999999 L2088.55 851.4499999999999 L2071.05 851.4499999999999 L2011.8500000000001 791.9499999999999 Z" fill="none" stroke="#B09500" stroke-width="2.3" stroke-linejoin="miter"/>
<path d="M2011.8500000000001 773.4499999999999 L2071.05 832.9499999999999 L2088.55 832.9499999999999 M2071.05 832.9499999999999 L2071.05 851.4499999999999" fill="none" stroke="#B09500" stroke-width="2.3"/>
<path d="M2088.75 773.4499999999999 L2106.25 773.4499999999999 L2165.45 832.9499999999999 L2165.45 851.4499999999999 L2147.95 851.4499999999999 L2088.75 791.9499999999999 Z" fill="#e3c800" stroke="#B09500" stroke-width="2.3" stroke-linejoin="miter"/>
<path d="M2088.75 773.4499999999999 L2147.95 832.9499999999999 L2147.95 851.4499999999999 L2088.75 791.9499999999999 Z" fill="#d4ba00" stroke="none"/>
<path d="M2088.75 773.4499999999999 L2106.25 773.4499999999999 L2165.45 832.9499999999999 L2165.45 851.4499999999999 L2147.95 851.4499999999999 L2088.75 791.9499999999999 Z" fill="none" stroke="#B09500" stroke-width="2.3" stroke-linejoin="miter"/>
<path d="M2088.75 773.4499999999999 L2147.95 832.9499999999999 L2165.45 832.9499999999999 M2147.95 832.9499999999999 L2147.95 851.4499999999999" fill="none" stroke="#B09500" stroke-width="2.3"/>
<path d="M2165.65 773.4499999999999 L2183.15 773.4499999999999 L2242.35 832.9499999999999 L2242.35 851.4499999999999 L2224.85 851.4499999999999 L2165.65 791.9499999999999 Z" fill="#e3c800" stroke="#B09500" stroke-width="2.3" stroke-linejoin="miter"/>
<path d="M2165.65 773.4499999999999 L2224.85 832.9499999999999 L2224.85 851.4499999999999 L2165.65 791.9499999999999 Z" fill="#d4ba00" stroke="none"/>
<path d="M2165.65 773.4499999999999 L2183.15 773.4499999999999 L2242.35 832.9499999999999 L2242.35 851.4499999999999 L2224.85 851.4499999999999 L2165.65 791.9499999999999 Z" fill="none" stroke="#B09500" stroke-width="2.3" stroke-linejoin="miter"/>
<path d="M2165.65 773.4499999999999 L2224.85 832.9499999999999 L2242.35 832.9499999999999 M2224.85 832.9499999999999 L2224.85 851.4499999999999" fill="none" stroke="#B09500" stroke-width="2.3"/>
<path d="M2242.4500000000003 773.4499999999999 L2259.9500000000003 773.4499999999999 L2319.15 832.9499999999999 L2319.15 851.4499999999999 L2301.65 851.4499999999999 L2242.4500000000003 791.9499999999999 Z" fill="#e3c800" stroke="#B09500" stroke-width="2.3" stroke-linejoin="miter"/>
<path d="M2242.4500000000003 773.4499999999999 L2301.65 832.9499999999999 L2301.65 851.4499999999999 L2242.4500000000003 791.9499999999999 Z" fill="#d4ba00" stroke="none"/>
<path d="M2242.4500000000003 773.4499999999999 L2259.9500000000003 773.4499999999999 L2319.15 832.9499999999999 L2319.15 851.4499999999999 L2301.65 851.4499999999999 L2242.4500000000003 791.9499999999999 Z" fill="none" stroke="#B09500" stroke-width="2.3" stroke-linejoin="miter"/>
<path d="M2242.4500000000003 773.4499999999999 L2301.65 832.9499999999999 L2319.15 832.9499999999999 M2301.65 832.9499999999999 L2301.65 851.4499999999999" fill="none" stroke="#B09500" stroke-width="2.3"/>
<path d="M2011.8500000000001 878.35 L2029.3500000000001 878.35 L2088.55 937.85 L2088.55 956.35 L2071.05 956.35 L2011.8500000000001 896.85 Z" fill="#e3c800" stroke="#B09500" stroke-width="2.3" stroke-linejoin="miter"/>
<path d="M2011.8500000000001 878.35 L2071.05 937.85 L2071.05 956.35 L2011.8500000000001 896.85 Z" fill="#d4ba00" stroke="none"/>
<path d="M2011.8500000000001 878.35 L2029.3500000000001 878.35 L2088.55 937.85 L2088.55 956.35 L2071.05 956.35 L2011.8500000000001 896.85 Z" fill="none" stroke="#B09500" stroke-width="2.3" stroke-linejoin="miter"/>
<path d="M2011.8500000000001 878.35 L2071.05 937.85 L2088.55 937.85 M2071.05 937.85 L2071.05 956.35" fill="none" stroke="#B09500" stroke-width="2.3"/>
<path d="M2088.75 878.35 L2106.25 878.35 L2165.45 937.85 L2165.45 956.35 L2147.95 956.35 L2088.75 896.85 Z" fill="#e3c800" stroke="#B09500" stroke-width="2.3" stroke-linejoin="miter"/>
<path d="M2088.75 878.35 L2147.95 937.85 L2147.95 956.35 L2088.75 896.85 Z" fill="#d4ba00" stroke="none"/>
<path d="M2088.75 878.35 L2106.25 878.35 L2165.45 937.85 L2165.45 956.35 L2147.95 956.35 L2088.75 896.85 Z" fill="none" stroke="#B09500" stroke-width="2.3" stroke-linejoin="miter"/>
<path d="M2088.75 878.35 L2147.95 937.85 L2165.45 937.85 M2147.95 937.85 L2147.95 956.35" fill="none" stroke="#B09500" stroke-width="2.3"/>
<path d="M2165.65 878.35 L2183.15 878.35 L2242.35 937.85 L2242.35 956.35 L2224.85 956.35 L2165.65 896.85 Z" fill="#e3c800" stroke="#B09500" stroke-width="2.3" stroke-linejoin="miter"/>
<path d="M2165.65 878.35 L2224.85 937.85 L2224.85 956.35 L2165.65 896.85 Z" fill="#d4ba00" stroke="none"/>
<path d="M2165.65 878.35 L2183.15 878.35 L2242.35 937.85 L2242.35 956.35 L2224.85 956.35 L2165.65 896.85 Z" fill="none" stroke="#B09500" stroke-width="2.3" stroke-linejoin="miter"/>
<path d="M2165.65 878.35 L2224.85 937.85 L2242.35 937.85 M2224.85 937.85 L2224.85 956.35" fill="none" stroke="#B09500" stroke-width="2.3"/>
<path d="M2242.4500000000003 878.35 L2259.9500000000003 878.35 L2319.15 937.85 L2319.15 956.35 L2301.65 956.35 L2242.4500000000003 896.85 Z" fill="#e3c800" stroke="#B09500" stroke-width="2.3" stroke-linejoin="miter"/>
<path d="M2242.4500000000003 878.35 L2301.65 937.85 L2301.65 956.35 L2242.4500000000003 896.85 Z" fill="#d4ba00" stroke="none"/>
<path d="M2242.4500000000003 878.35 L2259.9500000000003 878.35 L2319.15 937.85 L2319.15 956.35 L2301.65 956.35 L2242.4500000000003 896.85 Z" fill="none" stroke="#B09500" stroke-width="2.3" stroke-linejoin="miter"/>
<path d="M2242.4500000000003 878.35 L2301.65 937.85 L2319.15 937.85 M2301.65 937.85 L2301.65 956.35" fill="none" stroke="#B09500" stroke-width="2.3"/>
<path d="M2011.8500000000001 983.15 L2029.3500000000001 983.15 L2088.55 1042.65 L2088.55 1061.15 L2071.05 1061.15 L2011.8500000000001 1001.65 Z" fill="#e3c800" stroke="#B09500" stroke-width="2.3" stroke-linejoin="miter"/>
<path d="M2011.8500000000001 983.15 L2071.05 1042.65 L2071.05 1061.15 L2011.8500000000001 1001.65 Z" fill="#d4ba00" stroke="none"/>
<path d="M2011.8500000000001 983.15 L2029.3500000000001 983.15 L2088.55 1042.65 L2088.55 1061.15 L2071.05 1061.15 L2011.8500000000001 1001.65 Z" fill="none" stroke="#B09500" stroke-width="2.3" stroke-linejoin="miter"/>
<path d="M2011.8500000000001 983.15 L2071.05 1042.65 L2088.55 1042.65 M2071.05 1042.65 L2071.05 1061.15" fill="none" stroke="#B09500" stroke-width="2.3"/>
<path d="M2088.75 983.15 L2106.25 983.15 L2165.45 1042.65 L2165.45 1061.15 L2147.95 1061.15 L2088.75 1001.65 Z" fill="#e3c800" stroke="#B09500" stroke-width="2.3" stroke-linejoin="miter"/>
<path d="M2088.75 983.15 L2147.95 1042.65 L2147.95 1061.15 L2088.75 1001.65 Z" fill="#d4ba00" stroke="none"/>
<path d="M2088.75 983.15 L2106.25 983.15 L2165.45 1042.65 L2165.45 1061.15 L2147.95 1061.15 L2088.75 1001.65 Z" fill="none" stroke="#B09500" stroke-width="2.3" stroke-linejoin="miter"/>
<path d="M2088.75 983.15 L2147.95 1042.65 L2165.45 1042.65 M2147.95 1042.65 L2147.95 1061.15" fill="none" stroke="#B09500" stroke-width="2.3"/>
<path d="M2165.65 983.15 L2183.15 983.15 L2242.35 1042.65 L2242.35 1061.15 L2224.85 1061.15 L2165.65 1001.65 Z" fill="#e3c800" stroke="#B09500" stroke-width="2.3" stroke-linejoin="miter"/>
<path d="M2165.65 983.15 L2224.85 1042.65 L2224.85 1061.15 L2165.65 1001.65 Z" fill="#d4ba00" stroke="none"/>
<path d="M2165.65 983.15 L2183.15 983.15 L2242.35 1042.65 L2242.35 1061.15 L2224.85 1061.15 L2165.65 1001.65 Z" fill="none" stroke="#B09500" stroke-width="2.3" stroke-linejoin="miter"/>
<path d="M2165.65 983.15 L2224.85 1042.65 L2242.35 1042.65 M2224.85 1042.65 L2224.85 1061.15" fill="none" stroke="#B09500" stroke-width="2.3"/>
<path d="M2242.4500000000003 983.15 L2259.9500000000003 983.15 L2319.15 1042.65 L2319.15 1061.15 L2301.65 1061.15 L2242.4500000000003 1001.65 Z" fill="#e3c800" stroke="#B09500" stroke-width="2.3" stroke-linejoin="miter"/>
<path d="M2242.4500000000003 983.15 L2301.65 1042.65 L2301.65 1061.15 L2242.4500000000003 1001.65 Z" fill="#d4ba00" stroke="none"/>
<path d="M2242.4500000000003 983.15 L2259.9500000000003 983.15 L2319.15 1042.65 L2319.15 1061.15 L2301.65 1061.15 L2242.4500000000003 1001.65 Z" fill="none" stroke="#B09500" stroke-width="2.3" stroke-linejoin="miter"/>
<path d="M2242.4500000000003 983.15 L2301.65 1042.65 L2319.15 1042.65 M2301.65 1042.65 L2301.65 1061.15" fill="none" stroke="#B09500" stroke-width="2.3"/>
<path d="M2353.50 922.50 L2398.00 922.50" fill="none" stroke="#000" stroke-width="2.6" stroke-linecap="butt" stroke-linejoin="miter"/>
<rect x="2398.50" y="878.50" width="239.00" height="86.00" rx="11.5" ry="11.5" fill="#d5e8d4" stroke="#82b366" stroke-width="2.6"/>
<text x="2517.00" y="936.50" font-size="39" fill="#000" text-anchor="middle" font-weight="normal">Concatenate</text>
<path d="M2638.40 921.80 L2692.00 921.80" fill="none" stroke="#000" stroke-width="2.6" stroke-linecap="butt" stroke-linejoin="miter"/>
<path d="M2712.00 921.80 L2685.30 935.10 L2691.30 921.80 L2685.30 908.50 Z" fill="#000"/>
<path d="M2727.6 874 L2818.2999999999997 874 L2878 933.7 L2787.3 933.7 Z" fill="#dcc200"/>
<path d="M2727.6 874 L2787.3 933.7 L2787.3 994.5 L2727.6 934.8 Z" fill="#cfb500"/>
<rect x="2787.3" y="933.7" width="90.69999999999982" height="60.799999999999955" fill="#e3c800"/>
<path d="M2727.6 874 L2818.2999999999997 874 L2878 933.7 L2878 994.5 L2787.3 994.5 L2727.6 934.8 Z M2727.6 874 L2787.3 933.7 L2878 933.7 M2787.3 933.7 L2787.3 994.5" fill="none" stroke="#B09500" stroke-width="2.5" stroke-linejoin="miter"/>
<path d="M2802.60 862.80 L2802.60 825.40" fill="none" stroke="#000" stroke-width="2.6" stroke-linecap="butt" stroke-linejoin="miter"/>
<path d="M2802.60 805.40 L2815.90 832.10 L2802.60 826.10 L2789.30 832.10 Z" fill="#000"/>
<rect x="2669.30" y="744.90" width="267.10" height="56.80" rx="10" ry="10" fill="#d5e8d4" stroke="#82b366" stroke-width="2.6"/>
<text x="2802.50" y="786.80" font-size="39" fill="#000" text-anchor="middle" font-weight="normal">Project</text>
<path d="M2802.60 743.60 L2802.60 713.20" fill="none" stroke="#000" stroke-width="2.6" stroke-linecap="butt" stroke-linejoin="miter"/>
<path d="M2802.60 693.20 L2815.90 719.90 L2802.60 713.90 L2789.30 719.90 Z" fill="#000"/>
<rect x="2645.00" y="633.70" width="315.70" height="58.20" rx="10" ry="10" fill="#d5e8d4" stroke="#82b366" stroke-width="2.6"/>
<text x="2802.40" y="673.00" font-size="39" fill="#000" text-anchor="middle" font-weight="normal">Resample<tspan font-size="30" dy="8">s</tspan></text>
<text x="2650.30" y="1073.90" font-size="48.5" fill="#000" text-anchor="start" font-weight="bold">Reassemble<tspan font-size="37" dy="11">s</tspan></text>
<rect x="3111" y="278.4" width="868" height="743.2" rx="107" ry="107" fill="#f0eef3" stroke="#dbd9de" stroke-width="2.2"/>
<rect x="3171.30" y="322.60" width="378.90" height="88.10" rx="12.5" ry="12.5" fill="#e1d5e7" stroke="#9270a2" stroke-width="2.6"/>
<text x="3359.70" y="381.00" font-size="39" fill="#000" text-anchor="middle" font-weight="normal">Residual Conv Unit</text>
<path d="M3087.00 366.00 L3150.00 366.00" fill="none" stroke="#000" stroke-width="2.6" stroke-linecap="butt" stroke-linejoin="miter"/>
<path d="M3170.00 366.00 L3143.30 379.30 L3149.30 366.00 L3143.30 352.70 Z" fill="#000"/>
<path d="M3551.50 366.00 L3614.40 366.00" fill="none" stroke="#000" stroke-width="2.6" stroke-linecap="butt" stroke-linejoin="miter"/>
<path d="M3634.40 366.00 L3607.70 379.30 L3613.70 366.00 L3607.70 352.70 Z" fill="#000"/>
<path d="M3664.60 244.00 L3664.60 318.90" fill="none" stroke="#000" stroke-width="2.6" stroke-linecap="butt" stroke-linejoin="miter"/>
<path d="M3664.60 338.90 L3651.30 312.20 L3664.60 318.20 L3677.90 312.20 Z" fill="#000"/>
<circle cx="3664.6" cy="369.3" r="29" fill="#fff" stroke="#000" stroke-width="3"/>
<path d="M3654.2 368.3 H3675 M3664.6 357.9 V378.7" stroke="#000" stroke-width="2.8"/>
<path d="M3664.60 399.70 L3664.60 522.40" fill="none" stroke="#000" stroke-width="2.6" stroke-linecap="butt" stroke-linejoin="miter"/>
<path d="M3664.60 542.40 L3651.30 515.70 L3664.60 521.70 L3677.90 515.70 Z" fill="#000"/>
<rect x="3440.20" y="543.20" width="447.80" height="88.20" rx="12.5" ry="12.5" fill="#e1d5e7" stroke="#9270a2" stroke-width="2.6"/>
<text x="3664.25" y="602.10" font-size="39" fill="#000" text-anchor="middle" font-weight="normal">Residual Conv Unit</text>
<path d="M3664.60 632.70 L3664.60 696.00" fill="none" stroke="#000" stroke-width="2.6" stroke-linecap="butt" stroke-linejoin="miter"/>
<path d="M3664.60 716.00 L3651.30 689.30 L3664.60 695.30 L3677.90 689.30 Z" fill="#000"/>
<rect x="3485.80" y="717.30" width="357.50" height="88.00" rx="12.5" ry="12.5" fill="#e1d5e7" stroke="#9270a2" stroke-width="2.6"/>
<text x="3663.75" y="771.90" font-size="39" fill="#000" text-anchor="middle" font-weight="normal">Resample<tspan font-size="30.5" dy="8.6">0.5</tspan></text>
<path d="M3664.60 806.60 L3664.60 868.00" fill="none" stroke="#000" stroke-width="2.6" stroke-linecap="butt" stroke-linejoin="miter"/>
<path d="M3664.60 888.00 L3651.30 861.30 L3664.60 867.30 L3677.90 861.30 Z" fill="#000"/>
<rect x="3530.50" y="889.30" width="267.60" height="87.80" rx="12.5" ry="12.5" fill="#e1d5e7" stroke="#9270a2" stroke-width="2.6"/>
<text x="3663.90" y="946.80" font-size="39" fill="#000" text-anchor="middle" font-weight="normal">Project</text>
<path d="M3664.60 978.40 L3664.60 1060.50" fill="none" stroke="#000" stroke-width="2.6" stroke-linecap="butt" stroke-linejoin="miter"/>
<path d="M3664.60 1080.50 L3651.30 1053.80 L3664.60 1059.80 L3677.90 1053.80 Z" fill="#000"/>
<text x="3166.00" y="973.00" font-size="48.5" fill="#000" text-anchor="start" font-weight="bold">Fusion</text>
</svg></body></html>
